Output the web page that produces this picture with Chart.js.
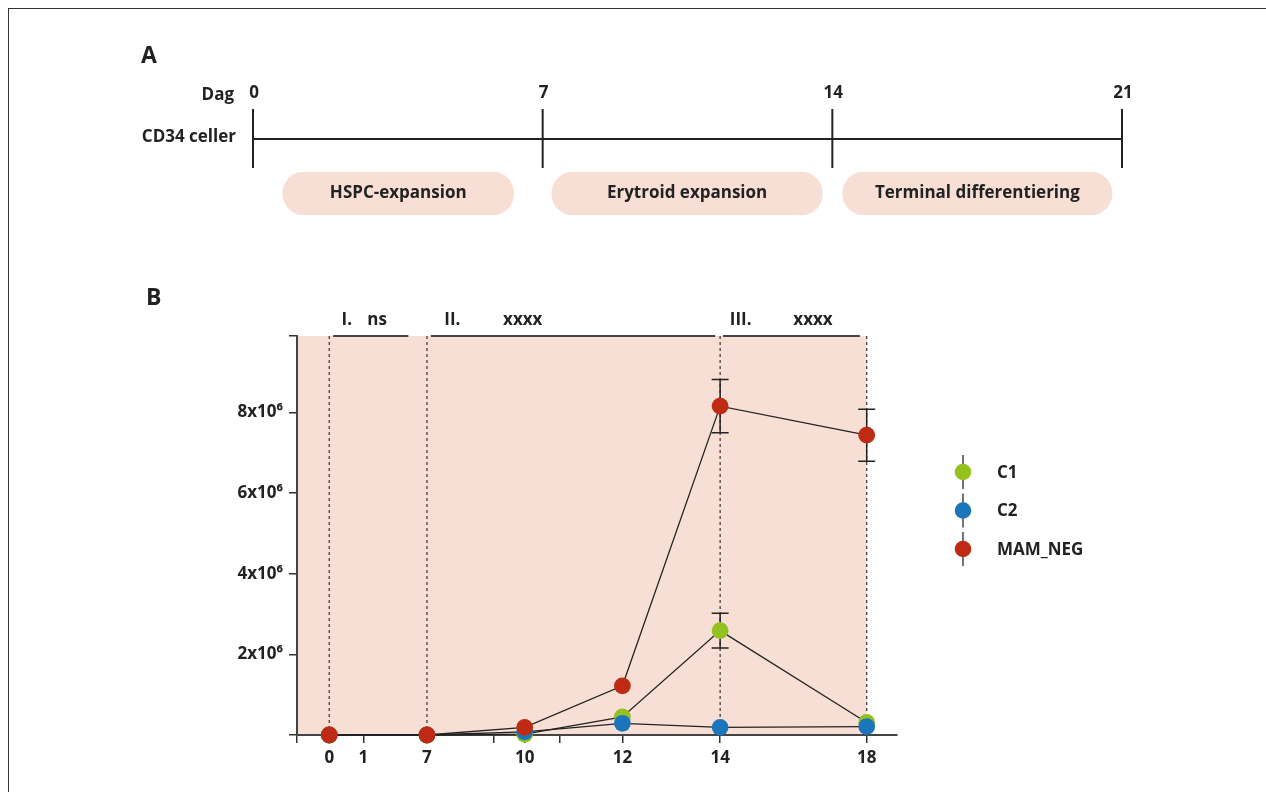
<!DOCTYPE html>
<html>
<head>
<meta charset="utf-8">
<script src="https://cdn.jsdelivr.net/npm/chart.js@4.4.1/dist/chart.umd.min.js"></script>
<style>
  html, body { margin: 0; padding: 0; background: #fff; overflow: hidden; }
  #frame { position: absolute; left: 8px; top: 8px; width: 1300px; height: 800px;
           border-left: 1.5px solid #333; border-top: 1.5px solid #333; }
  canvas { position: absolute; left: 0; top: 0; }
</style>
</head>
<body>
<div id="frame"></div>
<canvas id="growth" width="1266" height="792" style="width:1266px;height:792px"></canvas>
<canvas id="timeline" width="1266" height="792" style="width:1266px;height:792px"></canvas>
<script>
// Panel A: protocol timeline
const timelineDays = [0, 7, 14, 21];
const phaseNames = ["HSPC-expansion", "Erytroid expansion", "Terminal differentiering"];
const phaseStart = [0.72, 7.22, 14.25];
const phaseEnd = [6.3, 13.76, 20.76];

// Panel B: cell counts per day
const dayLabels = ["0", "7", "10", "12", "14", "18"];
const daySlot = [0, 1, 2, 3, 4, 5.5];
const extraXTicks = [-0.33, 0.35, 1.68, 2.36];
const extraXLabels = ["", "1", "", ""];

const c1 = [0, 0, 0.02e6, 0.45e6, 2.59e6, 0.31e6];
const c2 = [0, 0, 0.08e6, 0.29e6, 0.19e6, 0.21e6];
const mamNeg = [0, 0, 0.19e6, 1.22e6, 8.16e6, 7.44e6];
const c1Err = [0, 0, 0, 0, 0.43e6, 0];
const c2Err = [0, 0, 0, 0, 0, 0];
const mamNegErr = [0, 0, 0, 0, 0.66e6, 0.645e6];

const yTickValues = [2e6, 4e6, 6e6, 8e6];
const yTickLabels = ["2x10⁶", "4x10⁶", "6x10⁶", "8x10⁶"];

// significance brackets on top of the plot
const sigRoman = ["I.", "II.", "III."];
const sigText = ["ns", "xxxx", "xxxx"];
const sigFrom = [0.04, 1.04, 4.03];
const sigTo = [0.81, 3.95, 5.43];
const sigRomanAt = [0.18, 1.26, 4.21];
const sigTextAt = [0.49, 1.98, 4.95];
const dashedDays = ["0", "7", "14", "18"];

const FONT = '"Open Sans", "DejaVu Sans", sans-serif';
const INK = "#222";
const PINK = "#f8dfd5";

// ---------- Panel A ----------
const timelinePlugin = {
  id: "timelineDeco",
  afterDraw(chart) {
    const c = chart.ctx;
    const xs = chart.scales.x;
    const top = chart.chartArea.top;
    const lineY = top - 33;
    c.save();
    // panel letters
    c.fillStyle = INK;
    c.font = "700 23px " + FONT;
    c.textAlign = "left";
    c.textBaseline = "alphabetic";
    c.fillText("A", 141, 63);
    c.fillText("B", 146, 305);

    c.strokeStyle = INK;
    c.lineWidth = 2;
    c.beginPath();
    c.moveTo(xs.getPixelForValue(timelineDays[0]), lineY);
    c.lineTo(xs.getPixelForValue(timelineDays[timelineDays.length - 1]), lineY);
    c.stroke();

    c.font = "700 17px " + FONT;
    c.textBaseline = "middle";
    c.textAlign = "center";
    timelineDays.forEach(d => {
      const x = xs.getPixelForValue(d);
      c.beginPath();
      c.moveTo(x, top - 63);
      c.lineTo(x, top - 4);
      c.stroke();
      c.fillText(String(d), x + 1, top - 79);
    });

    c.textAlign = "right";
    c.fillText("Dag", 234, top - 77);
    c.fillText("CD34 celler", 236, lineY - 2);

    // pill labels
    c.textAlign = "center";
    c.font = "700 17px " + FONT;
    chart.data.datasets.forEach((ds, i) => {
      const bar = chart.getDatasetMeta(i).data[0];
      c.fillText(ds.label, bar.base + (bar.x - bar.base) / 2, bar.y);
    });
    c.restore();
  }
};

new Chart(document.getElementById("timeline"), {
  type: "bar",
  data: {
    labels: ["fase"],
    datasets: phaseNames.map((name, i) => ({
      label: name,
      data: [[phaseStart[i], phaseEnd[i]]],
      backgroundColor: PINK,
      borderRadius: 22,
      borderSkipped: false,
      barThickness: 43,
      grouped: false
    }))
  },
  options: {
    indexAxis: "y",
    responsive: false,
    animation: false,
    layout: { padding: { left: 253, right: 144, top: 172, bottom: 577 } },
    plugins: { legend: { display: false }, tooltip: { enabled: false } },
    scales: {
      x: { type: "linear", min: 0, max: 21, display: false },
      y: { display: false }
    }
  },
  plugins: [timelinePlugin]
});

// ---------- Panel B ----------
function slotLabel(v) {
  let i = daySlot.indexOf(v);
  if (i >= 0) return dayLabels[i];
  i = extraXTicks.indexOf(v);
  return i >= 0 ? extraXLabels[i] : "";
}

function yLabel(v) {
  const i = yTickValues.indexOf(v);
  return i >= 0 ? yTickLabels[i] : "";
}

const errors = [c1Err, c2Err, mamNegErr];

const growthPlugin = {
  id: "growthDeco",
  beforeDraw(chart) {
    const { ctx: c, chartArea: a, scales } = chart;
    const right = scales.x.getPixelForValue(daySlot[daySlot.length - 1]);
    c.save();
    c.fillStyle = PINK;
    c.fillRect(a.left, a.top, right - a.left, a.bottom - a.top);
    c.restore();
  },
  beforeDatasetsDraw(chart) {
    const { ctx: c, chartArea: a, scales } = chart;
    c.save();
    c.strokeStyle = "#333";
    c.lineWidth = 1.2;
    c.setLineDash([3, 3]);
    dashedDays.forEach(d => {
      const x = scales.x.getPixelForValue(daySlot[dayLabels.indexOf(d)]);
      c.beginPath();
      c.moveTo(x, a.top);
      c.lineTo(x, a.bottom);
      c.stroke();
    });
    c.setLineDash([]);
    c.strokeStyle = INK;
    c.lineWidth = 1.5;
    chart.data.datasets.forEach((ds, di) => {
      const err = errors[di];
      ds.data.forEach((p, i) => {
        if (!err[i]) return;
        const x = scales.x.getPixelForValue(p.x);
        const hi = scales.y.getPixelForValue(p.y + err[i]);
        const lo = scales.y.getPixelForValue(p.y - err[i]);
        c.beginPath();
        c.moveTo(x, hi); c.lineTo(x, lo);
        c.moveTo(x - 8.5, hi); c.lineTo(x + 8.5, hi);
        c.moveTo(x - 8.5, lo); c.lineTo(x + 8.5, lo);
        c.stroke();
      });
    });
    c.restore();
  },
  afterDraw(chart) {
    const { ctx: c, chartArea: a, scales } = chart;
    const xs = scales.x;
    c.save();
    // significance brackets
    c.strokeStyle = "#444";
    c.lineWidth = 2;
    c.fillStyle = INK;
    c.font = "700 17px " + FONT;
    c.textAlign = "center";
    c.textBaseline = "middle";
    sigRoman.forEach((r, i) => {
      c.beginPath();
      c.moveTo(xs.getPixelForValue(sigFrom[i]), a.top);
      c.lineTo(xs.getPixelForValue(sigTo[i]), a.top);
      c.stroke();
      c.fillText(r, xs.getPixelForValue(sigRomanAt[i]), a.top - 16);
      c.fillText(sigText[i], xs.getPixelForValue(sigTextAt[i]), a.top - 16);
    });

    // legend with error-bar style markers
    const lx = a.right + 66;
    let ly = a.top + 136;
    c.textAlign = "left";
    c.font = "700 17px " + FONT;
    chart.data.datasets.forEach(ds => {
      c.strokeStyle = "#444";
      c.lineWidth = 1.5;
      c.beginPath();
      c.moveTo(lx, ly - 17);
      c.lineTo(lx, ly + 17);
      c.stroke();
      c.fillStyle = ds.pointBackgroundColor;
      c.beginPath();
      c.arc(lx, ly, 8.3, 0, Math.PI * 2);
      c.fill();
      c.fillStyle = INK;
      c.fillText(ds.label, lx + 34, ly + 1);
      ly += 38.5;
    });
    c.restore();
  }
};

function series(label, values, color, order) {
  return {
    label,
    data: daySlot.map((x, i) => ({ x, y: values[i] })),
    borderColor: INK,
    borderWidth: 1.3,
    pointRadius: 8.4,
    pointHoverRadius: 8.4,
    pointBorderWidth: 0,
    pointBackgroundColor: color,
    clip: false,
    order
  };
}

new Chart(document.getElementById("growth"), {
  type: "line",
  data: {
    datasets: [
      series("C1", c1, "#95c11f", 3),
      series("C2", c2, "#1b75bb", 2),
      series("MAM_NEG", mamNeg, "#be2a13", 1)
    ]
  },
  options: {
    responsive: false,
    animation: false,
    layout: { padding: { left: 197, right: 369, top: 336, bottom: 17 } },
    plugins: { legend: { display: false }, tooltip: { enabled: false } },
    scales: {
      x: {
        type: "linear",
        min: -0.33,
        max: 5.81,
        afterBuildTicks: s => {
          s.ticks = daySlot.concat(extraXTicks).sort((p, q) => p - q).map(v => ({ value: v }));
        },
        afterFit: s => { s.height = 40; },
        ticks: {
          autoSkip: false,
          maxRotation: 0,
          padding: 5,
          color: INK,
          font: { family: FONT, size: 17, weight: "700" },
          callback: v => slotLabel(v)
        },
        grid: { drawOnChartArea: false, tickLength: 8, color: "#333", lineWidth: 1.5 },
        border: { color: "#444", width: 2 }
      },
      y: {
        min: 0,
        max: 9.9e6,
        afterBuildTicks: s => {
          s.ticks = [0].concat(yTickValues, [s.max]).map(v => ({ value: v }));
        },
        afterFit: s => { s.width = 100; },
        ticks: {
          autoSkip: false,
          padding: 6,
          color: INK,
          font: { family: FONT, size: 17, weight: "700" },
          callback: v => yLabel(v)
        },
        grid: { drawOnChartArea: false, tickLength: 8, color: "#333", lineWidth: 1.5 },
        border: { color: "#444", width: 2 }
      }
    }
  },
  plugins: [growthPlugin]
});
</script>
</body>
</html>
